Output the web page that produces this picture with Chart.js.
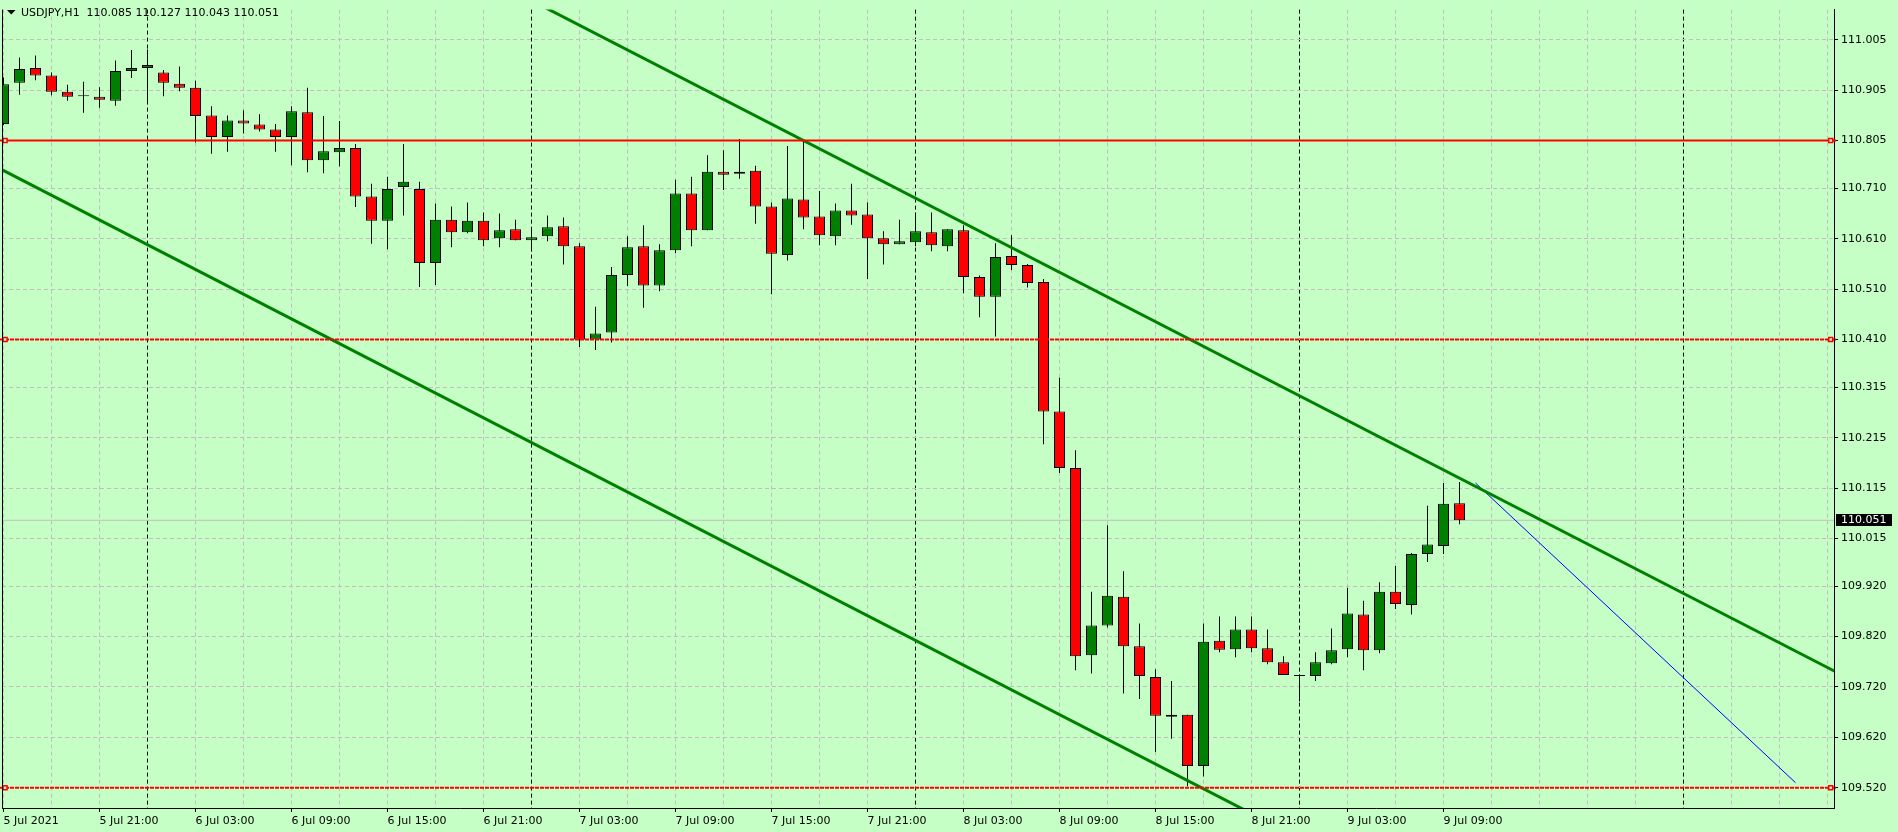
<!DOCTYPE html>
<html>
<head>
<meta charset="utf-8">
<script src="https://cdn.jsdelivr.net/npm/chart.js@4.4.0/dist/chart.umd.min.js"></script>
<style>
html,body{margin:0;padding:0;background:#c6ffc6;overflow:hidden}
#wrap{width:1898px;height:832px;position:relative}
canvas{display:block}
</style>
</head>
<body>
<div id="wrap"><canvas id="c" width="1898" height="832"></canvas></div>
<script>
// ---------- DATA (USDJPY H1, bar 0 = 5 Jul 2021 15:00) ----------
const symbolName = 'USDJPY,H1';
const opens  = [110.838,110.920,110.949,110.934,110.902,110.894,110.892,110.884,110.943,110.949,
                110.940,110.918,110.910,110.855,110.812,110.845,110.837,110.827,110.812,110.861,
                110.766,110.782,110.790,110.694,110.646,110.713,110.709,110.562,110.648,110.623,
                110.646,110.611,110.629,110.607,110.615,110.635,110.595,110.410,110.424,110.538,
                110.595,110.517,110.587,110.700,110.627,110.743,110.739,110.745,110.674,110.578,
                110.688,110.654,110.615,110.666,110.658,110.611,110.599,110.603,110.623,110.595,
                110.627,110.534,110.495,110.576,110.558,110.524,110.267,110.155,109.783,109.842,
                109.899,109.801,109.740,109.665,109.665,109.563,109.812,109.795,109.834,109.797,
                109.769,109.743,109.742,109.767,109.795,109.864,109.793,109.909,109.883,109.984,
                110.000,110.085];
const highs  = [110.930,110.970,110.974,110.940,110.916,110.922,110.911,110.964,110.985,110.986,
                110.945,110.952,110.924,110.873,110.855,110.865,110.857,110.838,110.873,110.910,
                110.854,110.844,110.798,110.719,110.733,110.798,110.723,110.680,110.674,110.682,
                110.662,110.660,110.648,110.627,110.656,110.652,110.601,110.475,110.554,110.615,
                110.637,110.599,110.727,110.733,110.776,110.786,110.808,110.755,110.682,110.794,
                110.806,110.705,110.680,110.719,110.682,110.625,110.648,110.662,110.662,110.629,
                110.637,110.537,110.601,110.617,110.560,110.530,110.334,110.190,109.909,110.041,
                109.950,109.846,109.755,109.732,109.665,109.846,109.860,109.860,109.860,109.834,
                109.781,109.745,109.789,109.836,109.917,109.891,109.928,109.960,109.986,110.080,
                110.125,110.127];
const lows   = [110.836,110.896,110.925,110.895,110.884,110.860,110.870,110.874,110.929,110.882,
                110.893,110.903,110.801,110.779,110.783,110.819,110.823,110.783,110.756,110.742,
                110.740,110.754,110.673,110.600,110.589,110.656,110.514,110.518,110.593,110.621,
                110.595,110.593,110.607,110.585,110.605,110.559,110.395,110.389,110.404,110.516,
                110.473,110.506,110.581,110.595,110.627,110.707,110.729,110.640,110.500,110.567,
                110.629,110.597,110.597,110.638,110.530,110.559,110.599,110.595,110.585,110.585,
                110.502,110.454,110.416,110.548,110.513,110.202,110.145,109.753,109.747,109.838,
                109.707,109.696,109.591,109.617,109.523,109.542,109.789,109.779,109.789,109.765,
                109.744,109.691,109.732,109.765,109.779,109.753,109.787,109.875,109.864,109.968,
                109.984,110.043];
const closes = [110.917,110.947,110.934,110.902,110.892,110.894,110.886,110.943,110.949,110.955,
                110.920,110.910,110.854,110.812,110.845,110.839,110.827,110.812,110.863,110.766,
                110.784,110.790,110.694,110.646,110.709,110.723,110.562,110.648,110.623,110.646,
                110.607,110.627,110.607,110.613,110.633,110.595,110.410,110.422,110.538,110.593,
                110.517,110.587,110.700,110.627,110.743,110.737,110.743,110.674,110.580,110.690,
                110.652,110.617,110.666,110.656,110.611,110.599,110.605,110.625,110.597,110.629,
                110.534,110.495,110.574,110.558,110.522,110.267,110.155,109.781,109.842,109.901,
                109.801,109.742,109.663,109.661,109.563,109.810,109.794,109.834,109.797,109.769,
                109.744,109.743,109.769,109.793,109.866,109.793,109.909,109.885,109.984,110.003,
                110.084,110.051];

// time axis: labels every 6 bars, grid every 3 bars, day separators (midnight)
const xTickBars   = [0,6,12,18,24,30,36,42,48,54,60,66,72,78,84,90];
const xTickLabels = ['5 Jul 2021','5 Jul 21:00','6 Jul 03:00','6 Jul 09:00','6 Jul 15:00','6 Jul 21:00',
                     '7 Jul 03:00','7 Jul 09:00','7 Jul 15:00','7 Jul 21:00','8 Jul 03:00','8 Jul 09:00',
                     '8 Jul 15:00','8 Jul 21:00','9 Jul 03:00','9 Jul 09:00'];
const daySeparatorBars = [9,33,57,81,105];
const gridStepBars = 3;

// price axis labels
const yTickValues = [111.005,110.905,110.805,110.710,110.610,110.510,110.410,110.315,110.215,
                     110.115,110.015,109.920,109.820,109.720,109.620,109.520];

// drawn objects
const hLinePrices   = [110.805, 110.410, 109.520];
const hLineMarkerX  = [0.1, 114.2];
const upperTrendX   = [33, 116];
const upperTrendY   = [111.083, 109.726];
const lowerTrendX   = [-1, 80];
const lowerTrendY   = [110.762, 109.436];
const blueLineX     = [92, 112];
const blueLineY     = [110.125, 109.530];

// ---------- CHART ----------
const BG = '#c6ffc6';
const GRID = '#c3bcc3';
const FONT = {family:'"DejaVu Sans"', size:11};
const X_MIN = -0.09375, X_MAX = 114.40625;
const Y_MIN = 109.47968, Y_MAX = 111.06505;
const lastIdx = closes.length - 1;

const bodies = opens.map((o,i)=>{
  let lo = Math.min(o, closes[i]), hi = Math.max(o, closes[i]);
  if (hi - lo < 0.002) { const m = (hi+lo)/2; lo = m - 0.001; hi = m + 0.001; }
  return {x:i, y:[lo,hi]};
});
const bodyColors = opens.map((o,i)=> Math.abs(closes[i]-o) < 0.0005 ? '#000000' : (closes[i] > o ? '#008000' : '#ff0000'));
const wicks = highs.map((h,i)=>({x:i, y:[lows[i], h]}));

const lineDs = (pts, color, width, dash, extra) => Object.assign({
  type:'line', data: pts, borderColor: color, borderWidth: width, borderDash: dash || [],
  pointRadius: 0, pointHoverRadius: 0, pointHitRadius: 0, tension: 0, fill: false,
  order: 0, clip: 0
}, extra || {});

const datasets = [];
// horizontal red lines with end markers
hLinePrices.forEach((p, k) => {
  const pts = [{x:X_MIN-2, y:p}, {x:hLineMarkerX[0], y:p}, {x:hLineMarkerX[1], y:p}, {x:X_MAX+2, y:p}];
  datasets.push(lineDs(pts, '#ff0000', 2, k === 0 ? [] : [4,1], {
    pointRadius: [0, 2.8, 2.8, 0], pointStyle: 'rect',
    pointBackgroundColor: BG, pointBorderColor: '#ff0000', pointBorderWidth: 1.5, clip: 2
  }));
});
datasets.push(lineDs(upperTrendX.map((x,i)=>({x, y:upperTrendY[i]})), '#008000', 3));
datasets.push(lineDs(lowerTrendX.map((x,i)=>({x, y:lowerTrendY[i]})), '#008000', 3));
datasets.push(lineDs(blueLineX.map((x,i)=>({x, y:blueLineY[i]})), '#0000ff', 1));
// candle bodies
datasets.push({
  type:'bar', data: bodies, backgroundColor: bodyColors, borderColor:'#000000', borderWidth:1,
  borderSkipped:false, barThickness:11, grouped:false, inflateAmount:0, order:1
});
// wicks
datasets.push({
  type:'bar', data: wicks, backgroundColor:'#000000', borderWidth:0,
  barThickness:1, grouped:false, inflateAmount:0, order:2
});
// bid line
datasets.push(lineDs([{x:X_MIN-2, y:closes[lastIdx]}, {x:X_MAX+2, y:closes[lastIdx]}], '#bfbfbf', 1, [], {order:5}));

const xLabelMap = {};
xTickBars.forEach((b,i)=>{ xLabelMap[b] = xTickLabels[i]; });
const xGridBars = [];
for (let b = 0; b <= X_MAX; b += gridStepBars) xGridBars.push(b);

const decor = {
  id:'decor',
  beforeDraw(chart){
    const ctx = chart.ctx;
    ctx.save(); ctx.fillStyle = BG; ctx.fillRect(0,0,chart.width,chart.height); ctx.restore();
  },
  afterDraw(chart){
    const ctx = chart.ctx, a = chart.chartArea, ys = chart.scales.y;
    ctx.save();
    // left frame line
    ctx.strokeStyle = '#000'; ctx.lineWidth = 1;
    ctx.beginPath(); ctx.moveTo(a.left+0.5, a.top); ctx.lineTo(a.left+0.5, a.bottom); ctx.stroke();
    // header
    ctx.fillStyle = '#000';
    ctx.beginPath(); ctx.moveTo(7,10); ctx.lineTo(15.5,10); ctx.lineTo(11.25,14.5); ctx.closePath(); ctx.fill();
    ctx.font = '11px "DejaVu Sans"'; ctx.textBaseline = 'middle'; ctx.textAlign = 'left';
    const hdr = symbolName + '  ' + [opens[lastIdx], highs[lastIdx], lows[lastIdx], closes[lastIdx]].map(v=>v.toFixed(3)).join(' ');
    ctx.fillText(hdr, 21, 13);
    // current price label
    const py = Math.round(ys.getPixelForValue(closes[lastIdx]));
    ctx.fillStyle = '#000'; ctx.fillRect(a.right+2, py-6, 56, 12);
    ctx.fillStyle = '#fff'; ctx.fillText(closes[lastIdx].toFixed(3), a.right+7, py+0.5);
    ctx.restore();
  }
};

new Chart(document.getElementById('c'), {
  type:'bar',
  data:{ datasets },
  options:{
    responsive:false, animation:false, devicePixelRatio:1, events:[],
    layout:{ padding:{left:2, top:2, right:0, bottom:0} },
    plugins:{ legend:{display:false}, tooltip:{enabled:false}, title:{display:false} },
    scales:{
      x:{
        type:'linear', min:X_MIN, max:X_MAX, offset:false, position:'bottom',
        afterBuildTicks: s => { s.ticks = xGridBars.map(v=>({value:v})); },
        afterFit: s => { s.height = 24; },
        grid:{ offset:false, lineWidth:1, tickLength:4,
          color: c => daySeparatorBars.includes(c.tick && c.tick.value) ? '#000000' : GRID,
          tickColor: c => (c.tick && xLabelMap[c.tick.value] !== undefined) ? '#000000' : 'rgba(0,0,0,0)' },
        border:{ display:true, color:'#000', width:1, dash:[4,3] },
        ticks:{ autoSkip:false, maxRotation:0, minRotation:0, align:'start', padding:3, color:'#000', font:FONT,
          callback: v => xLabelMap[v] !== undefined ? xLabelMap[v] : '' }
      },
      y:{
        type:'linear', position:'right', min:Y_MIN, max:Y_MAX, beginAtZero:false,
        afterBuildTicks: s => { s.ticks = yTickValues.map(v=>({value:v})); },
        afterFit: s => { s.width = 64; },
        grid:{ color:GRID, lineWidth:1, tickLength:4, tickColor:'#000' },
        border:{ display:true, color:'#000', width:1, dash:[4,3] },
        ticks:{ padding:3, color:'#000', font:FONT, callback: v => Number(v).toFixed(3) }
      }
    }
  },
  plugins:[decor]
});
</script>
</body>
</html>
